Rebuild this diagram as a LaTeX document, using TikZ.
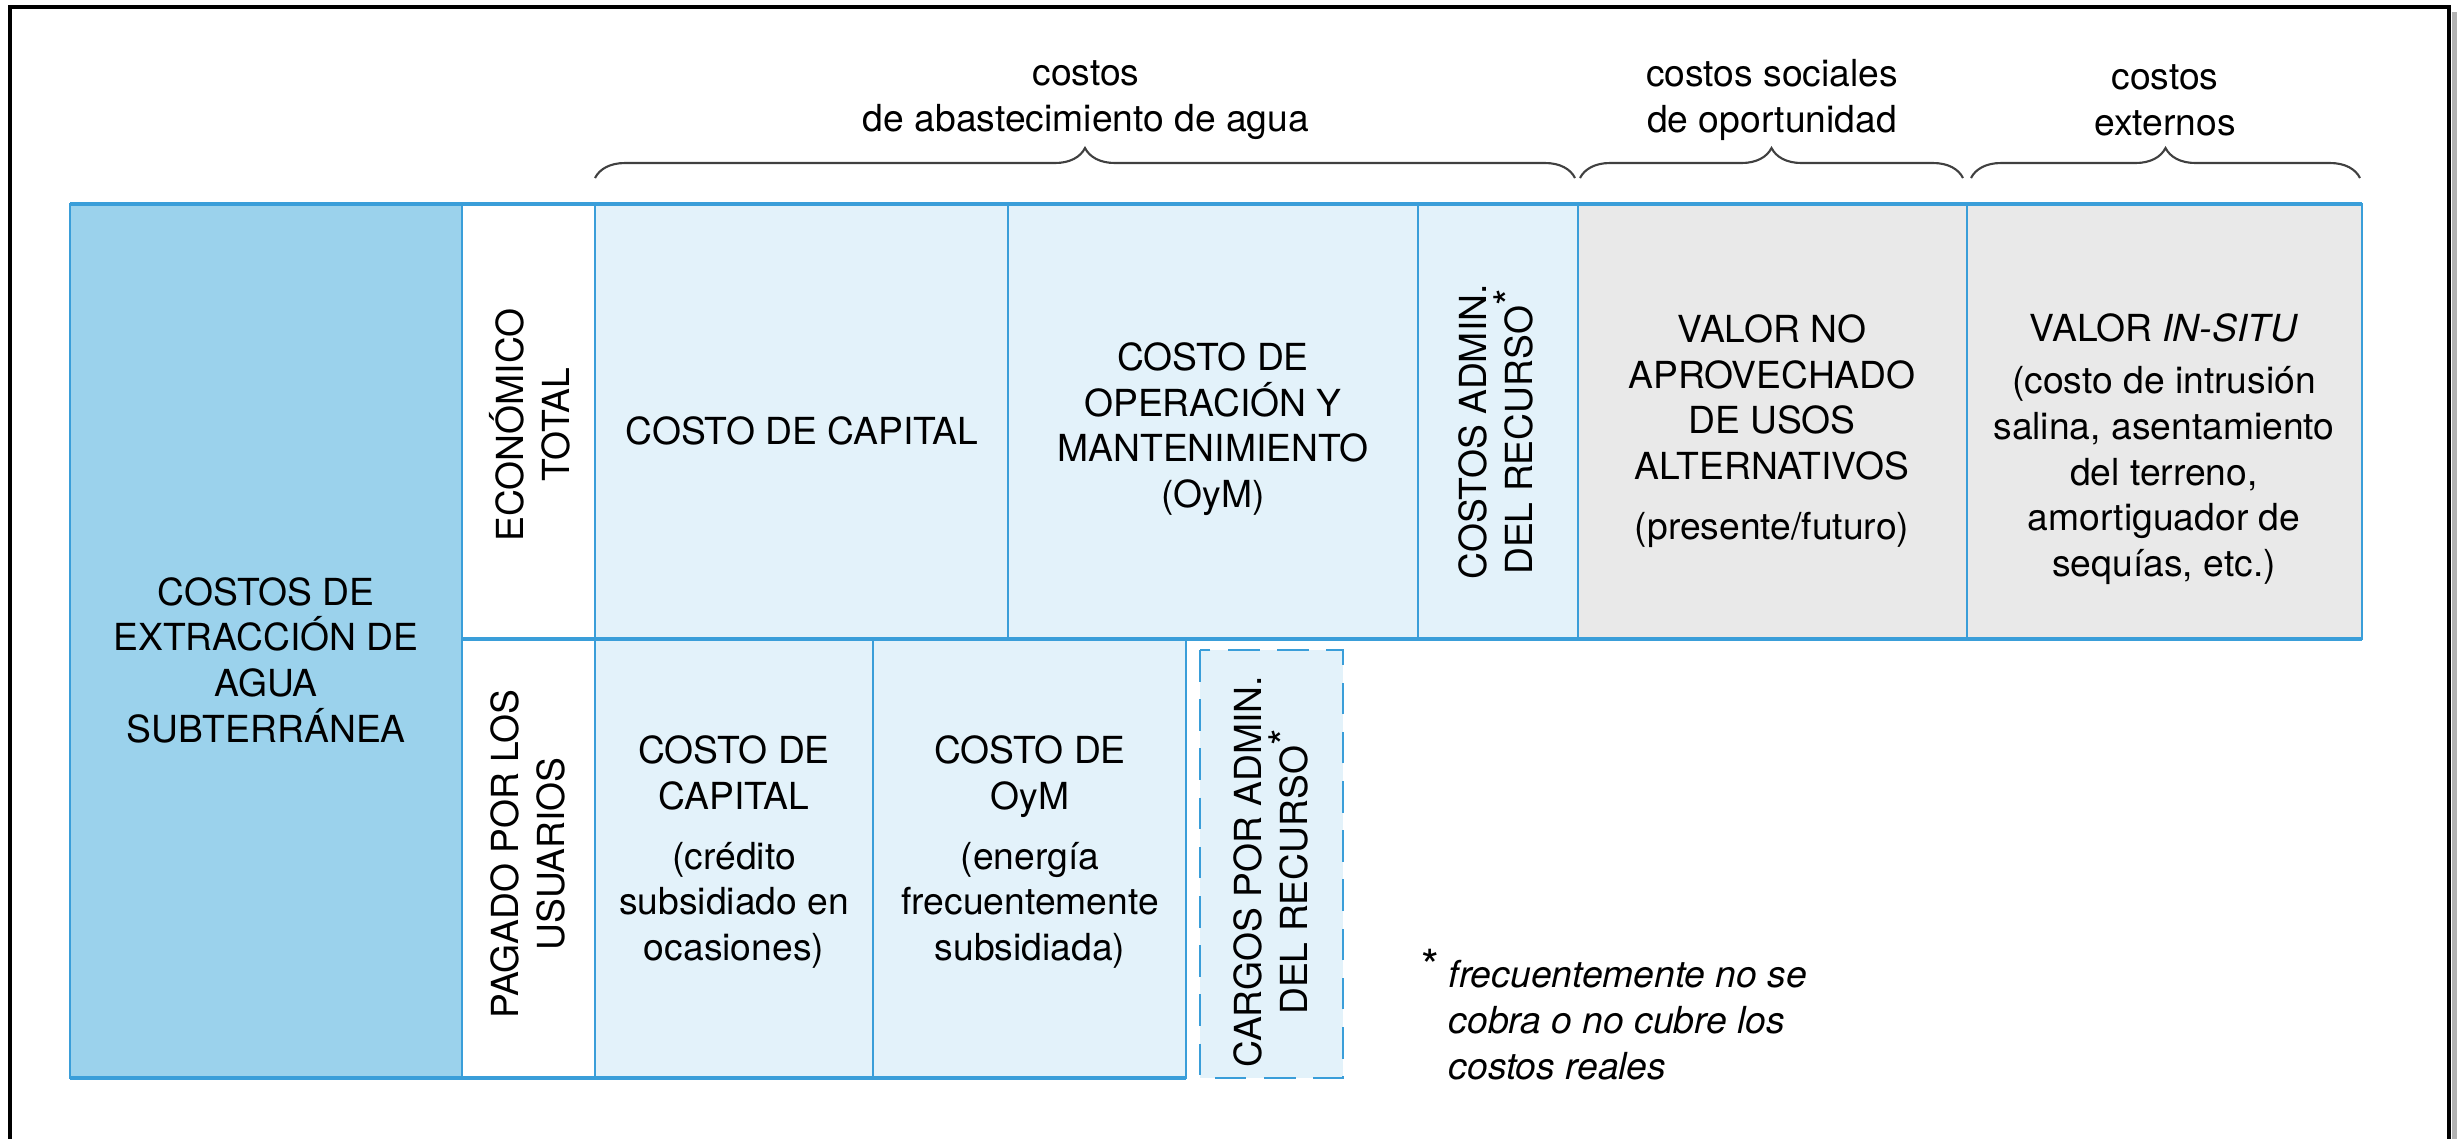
\documentclass[tikz,border=0pt]{standalone}
\usepackage{fontspec}
\setmainfont{TeX Gyre Heros}
\usetikzlibrary{decorations.pathreplacing}

\definecolor{aguaazul}{HTML}{9BD2EC}
\definecolor{celdaazul}{HTML}{E3F2FA}
\definecolor{celdagris}{HTML}{E9E9E9}
\definecolor{linea}{HTML}{3A9ED9}

\newcommand{\estrella}{\raisebox{0.2em}{\fontsize{12}{12}\selectfont *}}

\tikzset{
  celda/.style={draw=linea, line width=0.8pt},
  borde/.style={draw=linea, line width=1.3pt},
  texto/.style={align=center, inner sep=0pt},
  vtexto/.style={texto, rotate=90},
  llave/.style={decorate, decoration={brace, amplitude=3mm, aspect=0.5}, draw=black!75, line width=0.6pt},
}

\begin{document}
\begin{tikzpicture}[x=0.1mm, y=-0.1mm, font=\fontsize{10.6}{13}\selectfont]
\useasboundingbox (0,0) rectangle (2457,1138);

% marco
\draw[line width=1.3pt] (10,1140) -- (10,7) -- (2449,7) -- (2449,1140);
\draw[black!30, line width=1.5pt] (2455,12) -- (2455,1140);

% celdas
\filldraw[celda, fill=aguaazul] (70,204) rectangle (462,1078);
\filldraw[celda, fill=white] (462,204) rectangle (595,639);
\filldraw[celda, fill=white] (462,639) rectangle (595,1078);
\filldraw[celda, fill=celdaazul] (595,204) rectangle (1008,639);
\filldraw[celda, fill=celdaazul] (1008,204) rectangle (1418,639);
\filldraw[celda, fill=celdaazul] (1418,204) rectangle (1578,639);
\filldraw[celda, fill=celdagris] (1578,204) rectangle (1967,639);
\filldraw[celda, fill=celdagris] (1967,204) rectangle (2362,639);
\filldraw[celda, fill=celdaazul] (595,639) rectangle (873,1078);
\filldraw[celda, fill=celdaazul] (873,639) rectangle (1186,1078);
\filldraw[celda, fill=celdaazul, dashed, dash pattern=on 9pt off 5pt] (1200,650) rectangle (1343,1078);
\draw[borde] (70,204) -- (2362,204);
\draw[borde] (462,639) -- (2362,639);
\draw[borde] (70,1078) -- (1186,1078);

% llaves
\draw[llave] (595,178) -- (1575,178);
\draw[llave] (1580,178) -- (1963,178);
\draw[llave] (1971,178) -- (2360,178);
\node[texto] (abast) at (1086,100) {costos\\de abastecimiento de agua};
\node[texto] (social) at (1772,100) {costos sociales\\de oportunidad};
\node[texto] (extern) at (2165,100) {costos\\externos};

% fila superior
\node[texto] (extrac) at (266,660) {COSTOS DE\\EXTRACCIÓN DE\\AGUA\\SUBTERRÁNEA};
\node[vtexto] (econ) at (530,425) {ECONÓMICO\\TOTAL};
\node[texto] (capital) at (802,431) {COSTO DE CAPITAL};
\node[texto] (oym) at (1213,429) {COSTO DE\\OPERACIÓN Y\\MANTENIMIENTO\\(OyM)};
\node[vtexto] (admin) at (1496,432) {COSTOS ADMIN.\\DEL RECURSO\estrella};
\node[texto] (valor) at (1772,431) {VALOR NO\\APROVECHADO\\DE USOS\\ALTERNATIVOS\\[4pt](presente/futuro)};
\node[texto] (insitu) at (2164,449) {VALOR \textit{IN-SITU}\\[2pt](costo de intrusión\\salina, asentamiento\\del terreno,\\amortiguador de\\sequías, etc.)};

% fila inferior
\node[vtexto] (pagado) at (528,854) {PAGADO POR LOS\\USUARIOS};
\node[texto] (capusr) at (734,852) {COSTO DE\\CAPITAL\\[4pt](crédito\\subsidiado en\\ocasiones)};
\node[texto] (oymusr) at (1030,852) {COSTO DE\\OyM\\[4pt](energía\\frecuentemente\\subsidiada)};
\node[vtexto] (cargos) at (1271,872) {CARGOS POR ADMIN.\\DEL RECURSO\estrella};

% nota
\node[texto] (ast) at (1430,966) {\fontsize{13}{13}\selectfont *};
\node[texto, align=left, anchor=west] (nota) at (1448,1020) {\itshape frecuentemente no se\\\itshape cobra o no cubre los\\\itshape costos reales};

\end{tikzpicture}
\end{document}
